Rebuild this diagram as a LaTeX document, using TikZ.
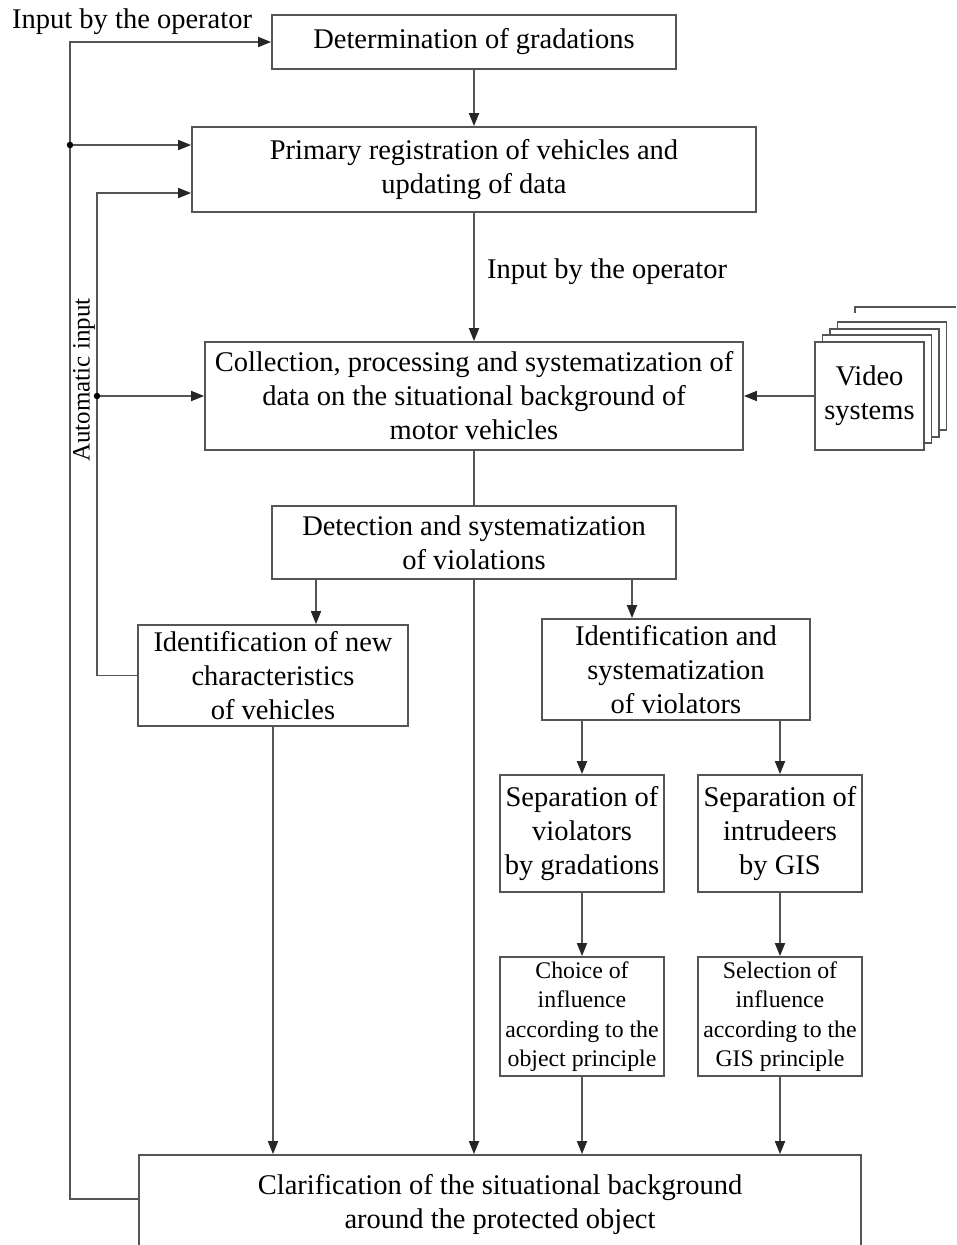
\documentclass[tikz,border=0pt]{standalone}
\usepackage{fontspec}
\setmainfont{Liberation Serif}
\usetikzlibrary{arrows.meta}
\definecolor{ln}{RGB}{85,85,85}
\tikzset{
  box/.style={draw=ln, line width=1.8pt, fill=white, rectangle, inner sep=0pt, align=center,
    font=\fontsize{28.5}{34}\selectfont},
  smallbox/.style={box, font=\fontsize{23.8}{29.5}\selectfont},
  lbl/.style={font=\fontsize{28.5}{34}\selectfont, inner sep=0pt},
  conn/.style={draw=ln, line width=1.8pt},
  arr/.style={conn, -{Triangle[length=13pt,width=10pt,color=black!85]}},
  jdot/.style={circle, fill=black, inner sep=0pt, minimum size=6.5pt},
}
\begin{document}
\begin{tikzpicture}[x=1pt,y=-1pt]
\clip (0,0) rectangle (956,1245);
\useasboundingbox (0,0) rectangle (956,1245);
\fill[white] (0,0) rectangle (956,1245);

% boxes
\node[box, minimum width=404pt, minimum height=54pt] (det) at (474,42) {Determination of gradations};
\node[box, minimum width=564pt, minimum height=85pt] (prim) at (474,169.5) {Primary registration of vehicles and\\updating of data};
\node[box, minimum width=538pt, minimum height=108pt] (coll) at (474,396) {Collection, processing and systematization of\\data on the situational background of\\motor vehicles};

% video stack
\draw[conn] (855,313) -- (855,307) -- (956,307);
\foreach \k in {3,2,1} {
  \draw[conn, fill=white] (815+7.5*\k,342-6.7*\k) rectangle (924+7.5*\k,450-6.7*\k);
}
\node[box, minimum width=109pt, minimum height=108pt] (video) at (869.5,396) {Video\\systems};

\node[box, minimum width=404pt, minimum height=73pt] (detect) at (474,542.5) {Detection and systematization\\of violations};
\node[box, minimum width=270pt, minimum height=101pt] (idnew) at (273,675.5) {Identification of new\\characteristics\\of vehicles};
\node[box, minimum width=268pt, minimum height=101pt] (idviol) at (676,669.5) {Identification and\\systematization\\of violators};
\node[box, minimum width=164pt, minimum height=117pt] (sep1) at (582,833.5) {Separation of\\violators\\by gradations};
\node[box, minimum width=164pt, minimum height=117pt] (sep2) at (780,833.5) {Separation of\\intrudeers\\by GIS};
\node[smallbox, minimum width=164pt, minimum height=119pt] (choice) at (582,1016.5) {Choice of\\influence\\according to the\\object principle};
\node[smallbox, minimum width=164pt, minimum height=119pt] (select) at (780,1016.5) {Selection of\\influence\\according to the\\GIS principle};
\node[box, minimum width=722pt, minimum height=98pt] (clar) at (500,1204) {Clarification of the situational background\\around the protected object};

% labels
\node[lbl, anchor=west] (lop1) at (12,22) {Input by the operator};
\node[lbl, anchor=west] (lop2) at (487,272) {Input by the operator};
\node[lbl, rotate=90, font=\fontsize{25}{30}\selectfont] (lauto) at (84,380) {Automatic input};

% coordinates for the feedback lines
\coordinate (LX) at (70,0);
\coordinate (AX) at (97,0);
\coordinate (cback) at ([yshift=5pt]clar.west);
\coordinate (pin1) at ([yshift=24.5pt]prim.west);
\coordinate (pin2) at ([yshift=-23.5pt]prim.west);
\coordinate (dn1) at ([xshift=-158pt]detect.south);
\coordinate (dn2) at ([xshift=158pt]detect.south);

% connectors
\draw[arr] (cback) -| (LX |- det.west) -- (det.west);
\node[jdot] (d1) at (LX |- pin1) {};
\draw[arr] (d1) -- (pin1);

\draw[arr] (idnew.west) -| (AX |- pin2) -- (pin2);
\node[jdot] (d2) at (AX |- coll.west) {};
\draw[arr] (d2) -- (coll.west);

\draw[arr] (det.south) -- (prim.north);
\draw[arr] (prim.south) -- (coll.north);
\draw[arr] (video.west) -- (coll.east);
\draw[conn] (coll.south) -- (detect.north);

\draw[arr] (dn1) -- (dn1 |- idnew.north);
\draw[arr] (dn2) -- (dn2 |- idviol.north);
\draw[arr] (detect.south) -- (detect.south |- clar.north);
\draw[arr] (idnew.south) -- (idnew.south |- clar.north);

\draw[arr] (sep1.north |- idviol.south) -- (sep1.north);
\draw[arr] (sep2.north |- idviol.south) -- (sep2.north);
\draw[arr] (sep1.south) -- (choice.north);
\draw[arr] (sep2.south) -- (select.north);
\draw[arr] (choice.south) -- (choice.south |- clar.north);
\draw[arr] (select.south) -- (select.south |- clar.north);
\end{tikzpicture}
\end{document}
